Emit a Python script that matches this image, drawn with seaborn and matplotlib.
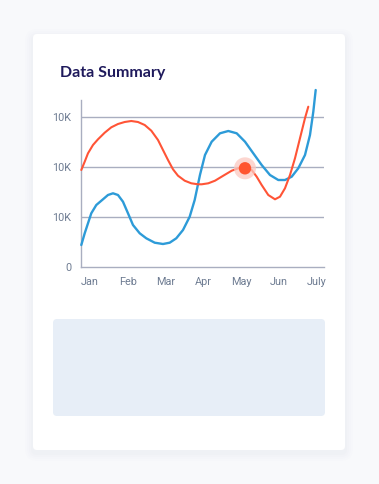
import matplotlib
matplotlib.use("Agg")
import matplotlib.pyplot as plt
from matplotlib.patches import FancyBboxPatch
import seaborn as sns
import pandas as pd

# ---- data ----
months = ["Jan", "Feb", "Mar", "Apr", "May", "Jun", "July"]
y_ticks = [0, 1, 2, 3]
y_tick_labels = ["0", "10K", "10K", "10K"]

red_x = [-0.230, -0.140, -0.053, 0.079, 0.212, 0.389, 0.564, 0.741, 0.918, 1.093,
         1.270, 1.448, 1.623, 1.800, 1.932, 2.065, 2.197, 2.329, 2.507, 2.681,
         2.859, 2.957, 3.131, 3.309, 3.528, 3.751, 3.970, 4.103, 4.280, 4.412,
         4.544, 4.719, 4.897, 5.029, 5.161, 5.294, 5.426, 5.558, 5.690, 5.778]
red_y = [1.946, 2.112, 2.280, 2.446, 2.560, 2.692, 2.800, 2.866, 2.906, 2.926,
         2.906, 2.846, 2.732, 2.546, 2.346, 2.146, 1.960, 1.832, 1.732, 1.680,
         1.660, 1.660, 1.680, 1.732, 1.832, 1.932, 1.992, 1.980, 1.946, 1.812,
         1.646, 1.446, 1.360, 1.412, 1.580, 1.846, 2.180, 2.580, 2.980, 3.212]

blue_x = [-0.230, -0.140, -0.053, 0.034, 0.167, 0.344, 0.476, 0.609, 0.741, 0.873,
          1.006, 1.138, 1.316, 1.490, 1.713, 1.932, 2.110, 2.284, 2.462, 2.639,
          2.771, 2.912, 3.044, 3.221, 3.441, 3.661, 3.883, 4.103, 4.322, 4.544,
          4.764, 4.984, 5.161, 5.339, 5.513, 5.691, 5.823, 5.911, 5.974]
blue_y = [0.446, 0.680, 0.880, 1.080, 1.246, 1.360, 1.446, 1.480, 1.446, 1.312,
          1.080, 0.846, 0.680, 0.580, 0.492, 0.466, 0.492, 0.580, 0.746, 1.012,
          1.346, 1.850, 2.246, 2.512, 2.680, 2.726, 2.680, 2.512, 2.280, 2.046,
          1.846, 1.746, 1.746, 1.812, 1.980, 2.246, 2.646, 3.112, 3.546]

highlight_index = 27  # point on the red series that is marked

title = "Data Summary"

# ---- styling ----
RED = "#ff5436"
BLUE = "#2d9bd8"
GRID = "#a9aec0"
TICK = "#6e7c92"
TITLE = "#1f1a5c"

sns.set_theme(style="white")
plt.rcParams["font.family"] = ["Roboto", "DejaVu Sans"]

W, H = 379, 484
fig = plt.figure(figsize=(W / 100, H / 100), dpi=100)
fig.patch.set_facecolor("#f8f9fb")

def fx(px):
    return px / W

def fy(py):
    return 1 - py / H

# card shadow + card
bg = fig.add_axes([0, 0, 1, 1])
bg.set_xlim(0, W)
bg.set_ylim(H, 0)
bg.axis("off")
for i, a in enumerate([0.010, 0.012, 0.015, 0.018]):
    g = 8 - 2 * i
    bg.add_patch(FancyBboxPatch((33 - g, 34 - g + 3), 312 + 2 * g, 416 + 2 * g,
                                boxstyle="round,pad=0,rounding_size=%d" % (4 + g),
                                facecolor="#8090b0", edgecolor="none", alpha=a))
bg.add_patch(FancyBboxPatch((33, 34), 312, 416, boxstyle="round,pad=0,rounding_size=4",
                            facecolor="white", edgecolor="none"))
# empty placeholder box
bg.add_patch(FancyBboxPatch((53, 319), 272, 97, boxstyle="round,pad=0,rounding_size=4",
                            facecolor="#e7eef7", edgecolor="none"))
bg.text(60, 73, title, fontsize=11.5, fontweight="bold", color=TITLE,
        family=["Lato", "DejaVu Sans"], va="center", ha="left")

# chart
ax = fig.add_axes([fx(81), fy(267.3), fx(324) - fx(81), fy(100) - fy(267.3)])
ax.set_facecolor("none")

df_red = pd.DataFrame({"x": red_x, "y": red_y})
df_blue = pd.DataFrame({"x": blue_x, "y": blue_y})

for yv in y_ticks[1:]:
    ax.axhline(yv, color=GRID, lw=1.0, zorder=0)

sns.lineplot(data=df_blue, x="x", y="y", ax=ax, color=BLUE, lw=1.7, sort=False,
             estimator=None, zorder=3, clip_on=False,
             solid_joinstyle="round", solid_capstyle="round")
sns.lineplot(data=df_red, x="x", y="y", ax=ax, color=RED, lw=1.5, sort=False,
             estimator=None, zorder=4, clip_on=False,
             solid_joinstyle="round", solid_capstyle="round")

hl = df_red.iloc[[highlight_index]]
sns.scatterplot(data=hl, x="x", y="y", ax=ax, s=250, color="#fcc9c1", alpha=0.75,
                edgecolor="none", zorder=5)
sns.scatterplot(data=hl, x="x", y="y", ax=ax, s=80, color="#ff5530",
                edgecolor="none", zorder=6)

ax.set_xlim(-0.238, 6.194)
ax.set_ylim(0, 3.346)
ax.set_xticks(range(len(months)))
ax.set_xticklabels(months)
ax.set_yticks(y_ticks)
ax.set_yticklabels(y_tick_labels)
ax.set_xlabel("")
ax.set_ylabel("")
ax.tick_params(axis="both", length=0, labelsize=7.8, labelcolor=TICK)
ax.tick_params(axis="x", pad=7)
ax.tick_params(axis="y", pad=7)
for s in ["top", "right"]:
    ax.spines[s].set_visible(False)
for s in ["left", "bottom"]:
    ax.spines[s].set_color(GRID)
    ax.spines[s].set_linewidth(1.0)
ax.grid(False)

fig.savefig("out.png", dpi=100)
